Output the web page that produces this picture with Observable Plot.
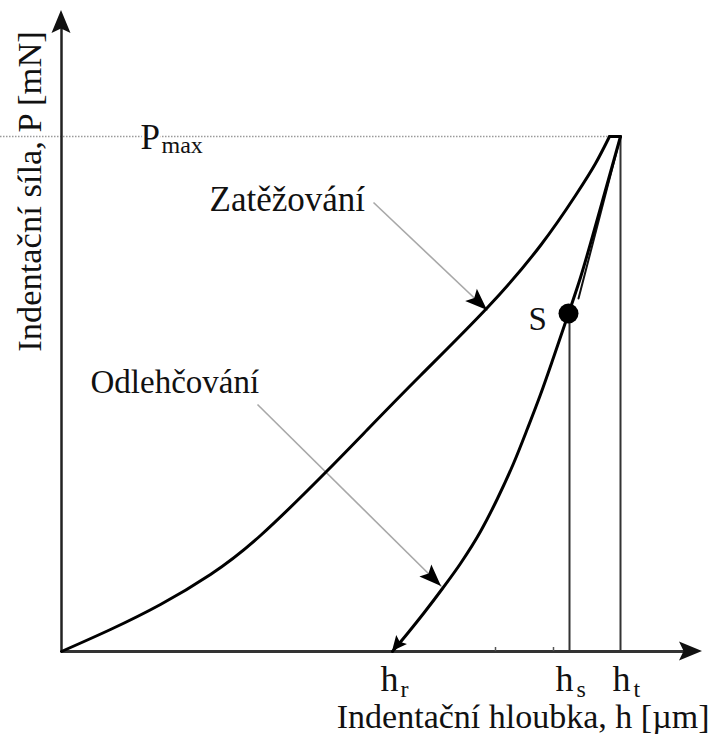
<!DOCTYPE html>
<html><head><meta charset="utf-8">
<script src="https://cdn.jsdelivr.net/npm/d3@7"></script>
<script src="https://cdn.jsdelivr.net/npm/@observablehq/plot@0.6"></script>
<style>body{margin:0;background:#fff}svg{display:block}</style>
</head><body><div id="chart"></div>
<script>
// Loading curve (Zatěžování): depth h, force P (arbitrary units)
const loadH = [0, 0.49, 0.99, 1.49, 1.99, 2.62, 3.06, 3.59, 4.26, 4.79, 5.14, 5.34, 5.48];
const loadP = [0, 0.22, 0.47, 0.77, 1.16, 1.77, 2.22, 2.76, 3.44, 4.06, 4.56, 4.88, 5.15];
// Unloading curve (Odlehčování)
const unloadH = [5.59, 5.45, 5.31, 5.19, 5.07, 4.92, 4.79, 4.66, 4.52, 4.36, 4.19, 3.99, 3.81, 3.62, 3.46, 3.31];
const unloadP = [5.15, 4.65, 4.15, 3.74, 3.38, 2.94, 2.57, 2.23, 1.88, 1.53, 1.20, 0.88, 0.63, 0.38, 0.18, 0];
// Key values
const Pmax = 5.15;
const hMaxLoad = 5.48;
const ht = 5.59, hs = 5.08, hr = 3.31;
const S = {h: 5.07, P: 3.38};
const tangentH = [5.59, 5.17];
const tangentP = [5.15, 3.53];
const minorTicks = [4.34, 4.92];
const axisMax = {h: 6.41, P: 6.41};
// Annotation pointer lines (start near label -> tip on curve)
const pointers = [
  {h0: 3.12, p0: 4.49, h1: 4.26, p1: 3.41},
  {h0: 1.96, p0: 2.47, h1: 3.80, p1: 0.65}
];
// Labels (left-anchored)
const labels = [
  {text: "Zatěžování", h: 1.48, P: 4.41, size: 35},
  {text: "Odlehčování", h: 0.29, P: 2.59, size: 33},
  {text: "S", h: 4.67, P: 3.22, size: 33},
  {text: "P", h: 0.79, P: 5.03, size: 35},
  {text: "max", h: 1.00, P: 4.99, size: 24},
  {text: "h", h: 3.19, P: -0.39, size: 36},
  {text: "r", h: 3.39, P: -0.45, size: 24},
  {text: "h", h: 4.94, P: -0.39, size: 36},
  {text: "s", h: 5.15, P: -0.45, size: 24},
  {text: "h", h: 5.51, P: -0.39, size: 36},
  {text: "t", h: 5.72, P: -0.45, size: 24}
];
const xLabel = {text: "Indentační hloubka, h [µm]", h: 6.48, P: -0.76};
const yLabel = {text: "Indentační síla, P [mN]", h: -0.21, P: 4.60};

const loading = loadH.map((h, i) => ({h, P: loadP[i]}));
const unloading = unloadH.map((h, i) => ({h, P: unloadP[i]}));
const tangent = tangentH.map((h, i) => ({h, P: tangentP[i]}));

function heads(list, len, half, color) {
  return (index, scales) => {
    const g = d3.create("svg:g");
    for (const d of list) {
      const ax = scales.x(d.h0), ay = scales.y(d.p0), bx = scales.x(d.h1), by = scales.y(d.p1);
      const a = Math.atan2(by - ay, bx - ax);
      const c = Math.cos(a), s = Math.sin(a);
      const baseX = bx - len * c, baseY = by - len * s;
      const notchX = bx - len * 0.8 * c, notchY = by - len * 0.8 * s;
      const pts = [[bx, by], [baseX - half * s, baseY + half * c], [notchX, notchY], [baseX + half * s, baseY - half * c]];
      g.append("polygon").attr("points", pts.map(p => p.join(",")).join(" ")).attr("fill", color);
    }
    return g.node();
  };
}

const serif = "Liberation Serif, Times New Roman, serif";
const n = unloading.length;

const plot = Plot.plot({
  width: 712,
  height: 734,
  marginLeft: 61,
  marginRight: 10,
  marginTop: 10,
  marginBottom: 83,
  x: {domain: [0, axisMax.h], axis: null},
  y: {domain: [0, axisMax.P], axis: null},
  style: {fontFamily: serif, background: "#fff", overflow: "visible"},
  marks: [
    // Pmax dotted guide
    Plot.ruleY([Pmax], {x1: -0.61, x2: hMaxLoad, stroke: "#9a9a9a", strokeWidth: 1.3, strokeDasharray: "1.5,1.5"}),
    // vertical guides at hs and ht
    Plot.ruleX([hs], {y1: 0, y2: S.P, stroke: "#333", strokeWidth: 2}),
    Plot.ruleX([ht], {y1: 0, y2: Pmax, stroke: "#333", strokeWidth: 2}),
    // axes
    Plot.ruleY([0], {x1: 0, x2: axisMax.h - 0.1, stroke: "#333", strokeWidth: 3}),
    Plot.ruleX([0], {y1: 0, y2: axisMax.P - 0.1, stroke: "#222", strokeWidth: 2.5}),
    heads([{h0: 0, p0: 0, h1: axisMax.h, p1: 0}, {h0: 0, p0: 0, h1: 0, p1: axisMax.P}], 23, 9.5, "#111"),
    // minor ticks
    Plot.ruleX(minorTicks, {y1: 0, y2: 0.04, stroke: "#555", strokeWidth: 1.5}),
    // pointer lines
    Plot.link(pointers, {x1: "h0", y1: "p0", x2: "h1", y2: "p1", stroke: "#a8a8a8", strokeWidth: 1.6}),
    heads(pointers, 22, 8.5, "#000"),
    // tangent line
    Plot.line(tangent, {x: "h", y: "P", stroke: "#111", strokeWidth: 2}),
    // curves
    Plot.line(loading, {x: "h", y: "P", curve: "natural", stroke: "#000", strokeWidth: 3}),
    Plot.line([loading[loading.length - 1], unloading[0]], {x: "h", y: "P", stroke: "#000", strokeWidth: 3}),
    Plot.line(unloading, {x: "h", y: "P", curve: "monotone-x", stroke: "#000", strokeWidth: 3}),
    heads([{h0: unloadH[n - 2], p0: unloadP[n - 2], h1: unloadH[n - 1], p1: unloadP[n - 1]}], 15, 7, "#000"),
    // S point
    Plot.dot([S], {x: "h", y: "P", r: 10, fill: "#000", stroke: "none"}),
    // labels
    Plot.text(labels, {x: "h", y: "P", text: "text", fontSize: d => d.size, textAnchor: "start", lineAnchor: "bottom", fill: "#111", stroke: "#fff", strokeWidth: 5, fontFamily: serif}),
    Plot.text([xLabel], {x: "h", y: "P", text: "text", fontSize: 34, textAnchor: "end", lineAnchor: "bottom", fill: "#111", fontFamily: serif}),
    Plot.text([yLabel], {x: "h", y: "P", text: "text", rotate: -90, fontSize: 34.5, textAnchor: "middle", lineAnchor: "bottom", fill: "#111", fontFamily: serif})
  ]
});
document.getElementById("chart").appendChild(plot);
</script>
</body></html>
